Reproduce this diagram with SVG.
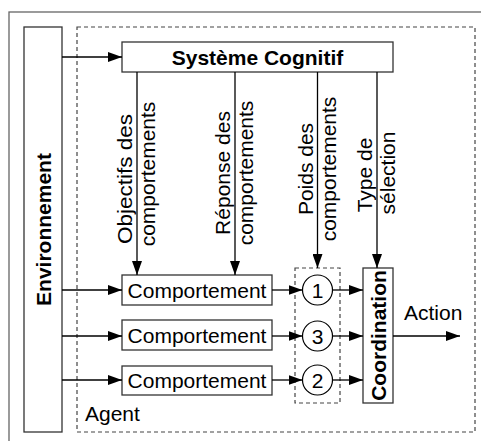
<svg xmlns="http://www.w3.org/2000/svg" width="481" height="441" viewBox="0 0 481 441">
<style>
text{font-family:"Liberation Sans",Arial,sans-serif;font-size:21px;fill:#000}
.b{font-weight:bold}
.box{fill:#fff;stroke:#333;stroke-width:1.3}
.dash{fill:none;stroke:#444;stroke-width:1.2;stroke-dasharray:4 3}
.ln{stroke:#000;stroke-width:1.3;fill:none}
.m{text-anchor:middle}
</style>
<defs>
<marker id="ah" markerUnits="userSpaceOnUse" markerWidth="14" markerHeight="10" refX="14" refY="5" orient="auto">
<path d="M0,0 L14,5 L0,10 z" fill="#000"/>
</marker>
</defs>
<rect x="9" y="12" width="490" height="450" fill="#fff" stroke="#666" stroke-width="1.3"/>
<g id="agent">
<rect class="dash" x="77" y="27" width="398" height="405"/>
<text x="85" y="421">Agent</text>
</g>
<g id="environnement">
<rect class="box" x="24" y="27" width="38" height="405"/>
<text class="b m" transform="translate(51,229.5) rotate(-90)">Environnement</text>
</g>
<g id="systeme-cognitif">
<rect class="box" x="122" y="42" width="271" height="30"/>
<text class="b m" x="257.5" y="64.5">Système Cognitif</text>
</g>
<g id="comportement1">
<rect class="box" x="122" y="275" width="150" height="30"/>
<text class="m" x="197" y="297.5">Comportement</text>
</g>
<g id="comportement2">
<rect class="box" x="122" y="320" width="150" height="30"/>
<text class="m" x="197" y="342.5">Comportement</text>
</g>
<g id="comportement3">
<rect class="box" x="122" y="366" width="150" height="29"/>
<text class="m" x="197" y="388">Comportement</text>
</g>
<g id="poids">
<rect class="dash" x="295" y="268" width="45" height="135"/>
<circle cx="317.5" cy="290" r="15" fill="#fff" stroke="#000" stroke-width="1.2"/>
<text class="m" x="317.5" y="297.5">1</text>
<circle cx="317.5" cy="336" r="15" fill="#fff" stroke="#000" stroke-width="1.2"/>
<text class="m" x="317.5" y="343.5">3</text>
<circle cx="317.5" cy="380" r="15" fill="#fff" stroke="#000" stroke-width="1.2"/>
<text class="m" x="317.5" y="387.5">2</text>
</g>
<g id="coordination">
<rect class="box" x="363" y="268" width="30" height="135"/>
<text class="b m" transform="translate(386,335.5) rotate(-90)">Coordination</text>
</g>
<g id="connectors">
<line class="ln" x1="62" y1="57" x2="122" y2="57" marker-end="url(#ah)"/>
<line class="ln" x1="62" y1="290" x2="122" y2="290" marker-end="url(#ah)"/>
<line class="ln" x1="62" y1="336" x2="122" y2="336" marker-end="url(#ah)"/>
<line class="ln" x1="62" y1="380" x2="122" y2="380" marker-end="url(#ah)"/>
<line class="ln" x1="272" y1="290" x2="302.5" y2="290" marker-end="url(#ah)"/>
<line class="ln" x1="272" y1="336" x2="302.5" y2="336" marker-end="url(#ah)"/>
<line class="ln" x1="272" y1="380" x2="302.5" y2="380" marker-end="url(#ah)"/>
<line class="ln" x1="332.5" y1="290" x2="363" y2="290" marker-end="url(#ah)"/>
<line class="ln" x1="332.5" y1="336" x2="363" y2="336" marker-end="url(#ah)"/>
<line class="ln" x1="332.5" y1="380" x2="363" y2="380" marker-end="url(#ah)"/>
<line class="ln" x1="137" y1="72" x2="137" y2="275" marker-end="url(#ah)"/>
<line class="ln" x1="235" y1="72" x2="235" y2="275" marker-end="url(#ah)"/>
<line class="ln" x1="317.5" y1="72" x2="317.5" y2="268" marker-end="url(#ah)"/>
<line class="ln" x1="377" y1="72" x2="377" y2="268" marker-end="url(#ah)"/>
<line class="ln" x1="393" y1="336" x2="460" y2="336" marker-end="url(#ah)"/>
<text class="m" transform="translate(132,179) rotate(-90)" textLength="130" lengthAdjust="spacingAndGlyphs">Objectifs des</text>
<text class="m" transform="translate(155,174) rotate(-90)">comportements</text>
<text class="m" transform="translate(230,173) rotate(-90)">Réponse des</text>
<text class="m" transform="translate(253,173) rotate(-90)">comportements</text>
<text class="m" transform="translate(313,169) rotate(-90)">Poids des</text>
<text class="m" transform="translate(336,169) rotate(-90)">comportements</text>
<text class="m" transform="translate(372,175) rotate(-90)">Type de</text>
<text class="m" transform="translate(395,173) rotate(-90)">sélection</text>
<text x="404" y="320">Action</text>
</g>
</svg>
